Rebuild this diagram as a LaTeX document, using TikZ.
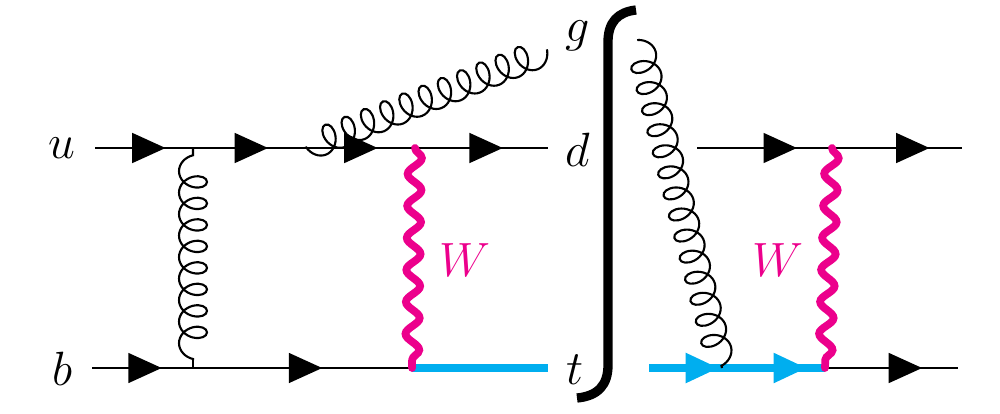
\documentclass[tikz,border=0pt]{standalone}
\usepackage{tikz}
\usetikzlibrary{arrows.meta,decorations.markings,decorations.pathmorphing}
\usepackage{xcolor}
\definecolor{bosonpink}{RGB}{236,0,140}
\definecolor{topblue}{RGB}{0,174,239}
\newcommand{\partlbl}[1]{\scalebox{1.1}{$#1$}}

\begin{document}
\begin{tikzpicture}[
  x=0.02cm, y=-0.02cm,
  lbl/.style={inner sep=0pt, font=\fontsize{24.88}{30}\selectfont},
  wlbl/.style={lbl, text=bosonpink},
  quark/.style={line width=1.1pt, draw=black, postaction={decorate}, decoration={markings, mark=at position #1 with {\arrow{Triangle[length=19pt,width=17pt]}}}},
  heavy/.style={line width=4.4pt, draw=topblue, postaction={decorate}, decoration={markings, mark=at position #1 with {\arrow{Triangle[length=19pt,width=16pt]}}}},
  heavyplain/.style={line width=4.4pt, draw=topblue},
  wboson/.style={line width=4.4pt, draw=bosonpink, line cap=round, decorate, decoration={snake, amplitude=0.14cm, segment length=0.64cm}},
  gluon/.style={line width=1.2pt, draw=black, decorate, decoration={coil, amplitude=0.28cm, segment length=#1, aspect=0.75, pre length=0.02cm, post length=0cm}}
]
\useasboundingbox (0,0) rectangle (1000,413);

\coordinate (uin) at (95,148);
\coordinate (uv) at (193,148);
\coordinate (gv) at (305,148);
\coordinate (dv) at (415,148);
\coordinate (dout) at (548,148);
\coordinate (gout) at (548,50);
\coordinate (bin) at (92,368);
\coordinate (bv) at (193,368);
\coordinate (bt) at (193,360);
\coordinate (tv) at (412,368);
\coordinate (tout) at (548,368);

\coordinate (din) at (697,148);
\coordinate (dw) at (832,148);
\coordinate (dend) at (962,148);
\coordinate (gtop) at (638,39);
\coordinate (tin) at (649,368);
\coordinate (tg) at (722,368);
\coordinate (tw) at (825,368);
\coordinate (bend) at (958,368);

\node[lbl] (ulbl) at (62,148) {\partlbl{u}};
\node[lbl] (blbl) at (63,369) {\partlbl{b}};
\node[lbl] (glbl) at (578,36) {\partlbl{g}};
\node[lbl] (dlbl) at (578,150) {\partlbl{d}};
\node[lbl] (tlbl) at (575,370) {\partlbl{t}};
\node[wlbl] (wleft) at (465,260) {\partlbl{W}};
\node[wlbl] (wright) at (778,260) {\partlbl{W}};

\draw[quark=0.72] (uin) -- (uv);
\draw[quark=0.67] (uv) -- (gv);
\draw[quark=0.66] (gv) -- (dv);
\draw[quark=0.66] (dv) -- (dout);
\draw[quark=0.69] (bin) -- (bv);
\draw[quark=0.59] (bv) -- (tv);
\draw[heavyplain] (tv) -- (tout);

\draw[quark=0.74] (din) -- (dw);
\draw[quark=0.75] (dw) -- (dend);
\draw[heavy=0.96] (tin) -- (tg);
\draw[heavy=0.825] (tg) -- (tw);
\draw[quark=0.73] (tw) -- (bend);

\draw[wboson] (dv) -- (tv);
\draw[wboson] (dw) -- (tw);

\draw[line width=1.2pt] (bv) -- (bt);
\draw[gluon=0.43cm] (bt) -- (uv);
\draw[gluon=0.415cm] (gout) -- (gv);
\draw[gluon=0.435cm] (gtop) -- (tg);

\draw[line width=5.3pt, draw=black] (636,10) .. controls (618,12) and (608,22) .. (608,42) -- (608,365) .. controls (608,385) and (598,396) .. (577,398);
\end{tikzpicture}
\end{document}
